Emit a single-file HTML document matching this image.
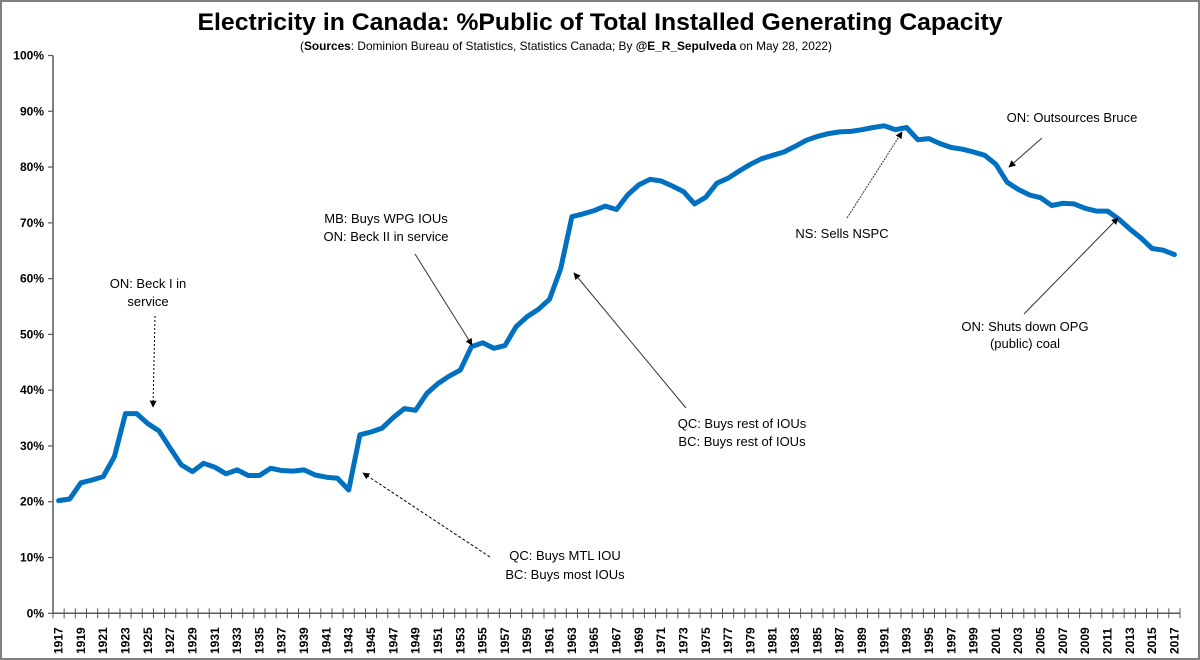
<!DOCTYPE html>
<html><head><meta charset="utf-8"><style>
html,body{margin:0;padding:0;background:#fff}
svg{display:block}
text{font-family:"Liberation Sans",Arial,sans-serif}
</style></head><body>
<svg id="chart" width="1200" height="660" viewBox="0 0 1200 660">
<rect x="1" y="1" width="1198" height="658" fill="#fff" stroke="#7f7f7f" stroke-width="2"/>
<text x="600" y="30" text-anchor="middle" font-size="24" font-weight="bold" textLength="805" lengthAdjust="spacingAndGlyphs">Electricity in Canada: %Public of Total Installed Generating Capacity</text>
<text x="566" y="50" text-anchor="middle" font-size="12" textLength="532" lengthAdjust="spacingAndGlyphs">(<tspan font-weight="bold">Sources</tspan>: Dominion Bureau of Statistics, Statistics Canada; By <tspan font-weight="bold">@E_R_Sepulveda</tspan> on May 28, 2022)</text>
<defs>
<marker id="ah" viewBox="0 0 10 10" refX="9" refY="5" markerWidth="7" markerHeight="7" orient="auto"><path d="M0,0 L10,5 L0,10 z" fill="#000"/></marker>
</defs>
<g id="axes"></g>
<g id="series"></g>
<g id="annotations" font-size="13" fill="#000">
<text x="148" y="288" text-anchor="middle"><tspan x="148">ON: Beck I in</tspan><tspan x="148" dy="18">service</tspan></text>
<line x1="155" y1="316" x2="153" y2="407" stroke="#000" stroke-width="1" stroke-dasharray="2,2" marker-end="url(#ah)"/>
<text x="386" y="223" text-anchor="middle"><tspan x="386">MB: Buys WPG IOUs</tspan><tspan x="386" dy="18">ON: Beck II in service</tspan></text>
<line x1="415" y1="254" x2="472" y2="345" stroke="#333" stroke-width="1" marker-end="url(#ah)"/>
<text x="742" y="428" text-anchor="middle"><tspan x="742">QC: Buys rest of IOUs</tspan><tspan x="742" dy="18">BC: Buys rest of IOUs</tspan></text>
<line x1="686" y1="408" x2="574" y2="273" stroke="#333" stroke-width="1" marker-end="url(#ah)"/>
<text x="842" y="238" text-anchor="middle">NS: Sells NSPC</text>
<line x1="847" y1="218" x2="902" y2="132" stroke="#333" stroke-width="1" stroke-dasharray="2,1" marker-end="url(#ah)"/>
<text x="1072" y="122" text-anchor="middle">ON: Outsources Bruce</text>
<line x1="1042" y1="138" x2="1009" y2="167" stroke="#333" stroke-width="1" marker-end="url(#ah)"/>
<text x="1025" y="331" text-anchor="middle"><tspan x="1025">ON: Shuts down OPG</tspan><tspan x="1025" dy="17">(public) coal</tspan></text>
<line x1="1024" y1="314" x2="1118" y2="218" stroke="#333" stroke-width="1" marker-end="url(#ah)"/>
<text x="565" y="560" text-anchor="middle"><tspan x="565">QC: Buys MTL IOU</tspan><tspan x="565" dy="19">BC: Buys most IOUs</tspan></text>
<line x1="490" y1="557" x2="363" y2="473" stroke="#000" stroke-width="1" stroke-dasharray="3,2" marker-end="url(#ah)"/>
</g>
</svg>
<script>
const years = [];
for (let y = 1917; y <= 2017; y++) years.push(y);
const publicShare = [20.2,20.5,23.4,23.9,24.5,28.1,35.8,35.8,34.0,32.7,29.6,26.6,25.4,26.9,26.2,25.0,25.7,24.7,24.7,26.0,25.6,25.5,25.7,24.8,24.4,24.2,22.1,32.0,32.5,33.2,35.1,36.7,36.4,39.4,41.2,42.5,43.6,47.8,48.5,47.5,48.0,51.4,53.2,54.5,56.3,61.8,71.1,71.6,72.2,73.0,72.4,75.0,76.8,77.8,77.5,76.6,75.6,73.4,74.6,77.1,78.0,79.3,80.5,81.5,82.1,82.7,83.7,84.8,85.5,86.0,86.3,86.4,86.7,87.1,87.4,86.7,87.1,84.9,85.1,84.2,83.5,83.2,82.7,82.1,80.5,77.3,76.0,75.0,74.5,73.1,73.5,73.4,72.6,72.1,72.1,70.7,68.9,67.3,65.4,65.1,64.3];
const yTicks = [0,10,20,30,40,50,60,70,80,90,100];
const yTickLabels = ["0%","10%","20%","30%","40%","50%","60%","70%","80%","90%","100%"];

const NS = "http://www.w3.org/2000/svg";
const X0 = 53, X1 = 1180, Y0 = 613.3, Y100 = 55.5;
const step = (X1 - X0) / years.length;
const xScale = i => X0 + step * (i + 0.5);
const yScale = v => Y0 - (Y0 - Y100) * v / 100;
function mk(tag, attrs, parent) {
  const e = document.createElementNS(NS, tag);
  for (const k in attrs) e.setAttribute(k, attrs[k]);
  parent.appendChild(e);
  return e;
}
const axes = document.getElementById('axes');
const yAxis = mk('line', {x1:X0, y1:Y100, x2:X0, y2:Y0, stroke:'#595959', 'stroke-width':1.5}, axes);


const xAxis = mk('line', {x1:X0, y1:Y0, x2:X1, y2:Y0, stroke:'#595959', 'stroke-width':1.5}, axes);


yTicks.forEach((v, i) => {
  const y = yScale(v);
  const t = mk('line', {x1:X0-5, y1:y, x2:X0, y2:y, stroke:'#595959', 'stroke-width':1.2}, axes);
  
  
  const l = mk('text', {x:X0-9, y:y+4, 'text-anchor':'end', 'font-size':12, 'font-weight':'bold'}, axes);
  l.textContent = yTickLabels[i];
  
  
});
for (let i = 0; i <= years.length; i++) {
  const x = X0 + step * i;
  const t = mk('line', {x1:x, y1:Y0-5, x2:x, y2:Y0+5, stroke:'#595959', 'stroke-width':1}, axes);
  
  
}
years.forEach((yr, i) => {
  if ((yr - 1917) % 2 !== 0) return;
  const x = xScale(i) + 4;
  const l = mk('text', {x:x, y:654, 'font-size':12, 'font-weight':'bold', transform:`rotate(-90 ${x} 654)`}, axes);
  l.textContent = yr;
  
  
});
const d = publicShare.map((v, i) => (i ? 'L' : 'M') + xScale(i).toFixed(1) + ',' + yScale(v).toFixed(1)).join(' ');
const line = mk('path', {d:d, fill:'none', stroke:'#0070c0', 'stroke-width':5, 'stroke-linejoin':'round', 'stroke-linecap':'round'}, document.getElementById('series'));


</script>
</body></html>
